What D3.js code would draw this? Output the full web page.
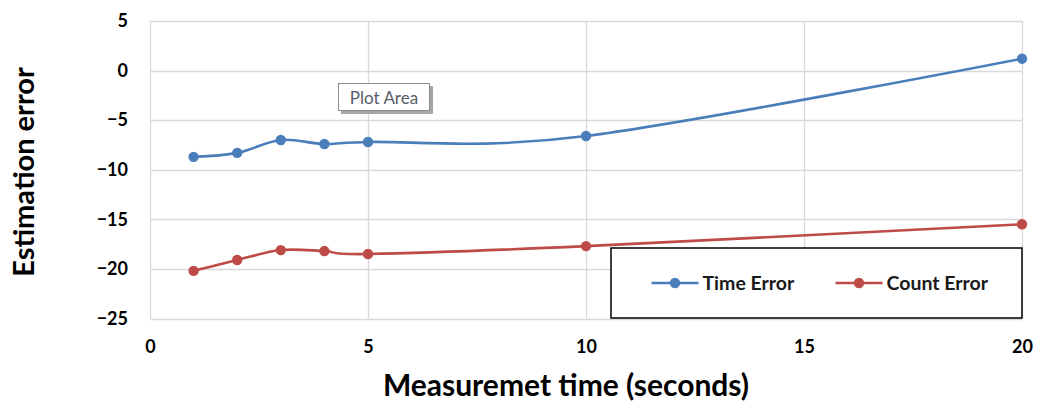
<!DOCTYPE html>
<html>
<head>
<meta charset="utf-8">
<script src="https://cdn.jsdelivr.net/npm/d3@7"></script>
<style>
  html, body { margin: 0; padding: 0; background: #fff; }
  svg { display: block; }
  text { font-family: Lato, "Open Sans", sans-serif; }
</style>
</head>
<body>
<svg id="chart" width="1038" height="407"></svg>
<script>
const times = [1, 2, 3, 4, 5, 10, 20];
const timeError = [-8.7, -8.3, -7.0, -7.4, -7.2, -6.6, 1.2];
const countError = [-20.2, -19.1, -18.1, -18.2, -18.5, -17.7, -15.5];
const seriesNames = ["Time Error", "Count Error"];
const seriesColors = ["#4a7ebb", "#be4b48"];
const xTicks = [0, 5, 10, 15, 20];
const yTicks = [5, 0, -5, -10, -15, -20, -25];
const xTitle = "Measuremet time (seconds)";
const yTitle = "Estimation error";
const tipText = "Plot Area";

const svg = d3.select("#chart");
const x = d3.scaleLinear().domain([0, 20]).range([150, 1022]);
const y = d3.scaleLinear().domain([-25, 5]).range([318.5, 21]);

// gridlines
const grid = svg.append("g");
grid.selectAll("line.h").data(yTicks).join("line")
  .attr("x1", x(0)).attr("x2", x(20))
  .attr("y1", d => Math.round(y(d)) + 0.5).attr("y2", d => Math.round(y(d)) + 0.5)
  .attr("stroke", "#d9d9d9").attr("stroke-width", 1.3);
grid.selectAll("line.v").data(xTicks).join("line")
  .attr("y1", y(5)).attr("y2", y(-25))
  .attr("x1", d => Math.round(x(d)) + 0.5).attr("x2", d => Math.round(x(d)) + 0.5)
  .attr("stroke", "#d9d9d9").attr("stroke-width", 1.3);

// axes (labels only)
const xAxis = svg.append("g").attr("transform", `translate(0,${y(-25)})`)
  .call(d3.axisBottom(x).tickValues(xTicks).tickSize(0).tickPadding(22).tickFormat(d3.format("d")));
xAxis.select(".domain").remove();
xAxis.selectAll("text").attr("font-size", 18).attr("font-weight", "bold").attr("fill", "#000")
  .attr("font-family", "Lato, sans-serif");

const yAxis = svg.append("g").attr("transform", `translate(${x(0)},0)`)
  .call(d3.axisLeft(y).tickValues(yTicks).tickSize(0).tickPadding(22).tickFormat(d3.format("d")));
yAxis.select(".domain").remove();
yAxis.selectAll("text").attr("font-size", 18).attr("font-weight", "bold").attr("fill", "#000")
  .attr("font-family", "Lato, sans-serif");

// series
const seriesData = [timeError, countError];
const line = d3.line().x(d => x(d[0])).y(d => y(d[1])).curve(d3.curveCardinal.tension(0));
seriesData.forEach((vals, i) => {
  const pts = times.map((t, j) => [t, vals[j]]);
  svg.append("path").attr("d", line(pts)).attr("fill", "none")
    .attr("stroke", seriesColors[i]).attr("stroke-width", 2.6);
  svg.append("g").selectAll("circle").data(pts).join("circle")
    .attr("cx", d => x(d[0])).attr("cy", d => y(d[1])).attr("r", 5.2)
    .attr("fill", seriesColors[i]);
});

// "Plot Area" tooltip
const tip = svg.append("g");
tip.append("rect").attr("x", 341).attr("y", 86).attr("width", 92).attr("height", 28).attr("fill", "#a6a6a6");
tip.append("rect").attr("x", 338.5).attr("y", 83.5).attr("width", 91).attr("height", 27)
  .attr("fill", "#fff").attr("stroke", "#8c8c8c").attr("stroke-width", 1);
tip.append("text").attr("x", 384).attr("y", 104).attr("text-anchor", "middle")
  .attr("font-size", 17).attr("fill", "#5a5a6a").attr("font-family", "'Open Sans', sans-serif")
  .text(tipText);

// legend
const lg = svg.append("g");
lg.append("rect").attr("x", 611).attr("y", 248).attr("width", 411).attr("height", 70)
  .attr("fill", "#fff").attr("stroke", "#000").attr("stroke-width", 1.5);
const legendX = [651.5, 835.5];
seriesNames.forEach((name, i) => {
  const lx = legendX[i];
  lg.append("line").attr("x1", lx).attr("x2", lx + 47).attr("y1", 283).attr("y2", 283)
    .attr("stroke", seriesColors[i]).attr("stroke-width", 2.6);
  lg.append("circle").attr("cx", lx + 23.5).attr("cy", 283).attr("r", 5.2).attr("fill", seriesColors[i]);
  lg.append("text").attr("x", lx + 51).attr("y", 290).attr("font-size", 19.5)
    .attr("font-weight", "bold").attr("fill", "#1a1a1a").text(name);
});

// axis titles
svg.append("text").attr("x", 566).attr("y", 396).attr("text-anchor", "middle")
  .attr("font-size", 30).attr("font-weight", "bold").attr("fill", "#000").text(xTitle);
svg.append("text").attr("transform", "translate(34,172) rotate(-90)").attr("text-anchor", "middle")
  .attr("font-size", 29).attr("font-weight", "bold").attr("fill", "#000").text(yTitle);
</script>
</body>
</html>
